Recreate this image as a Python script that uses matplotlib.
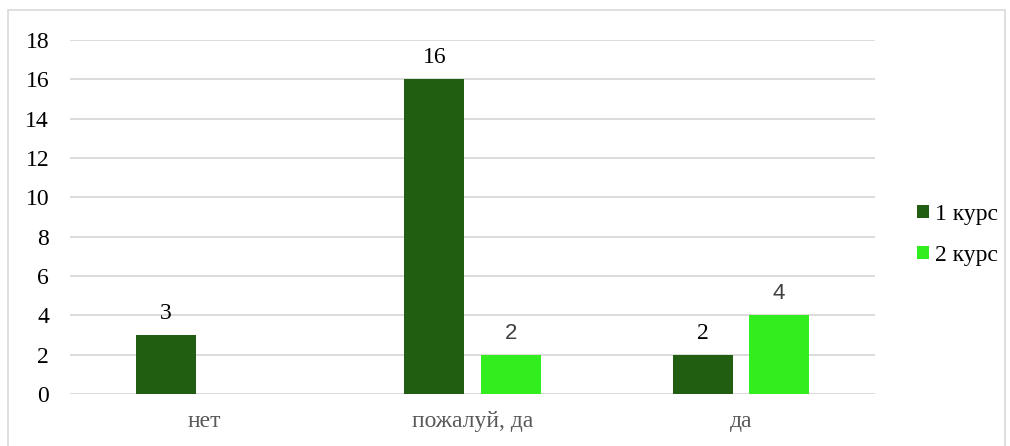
import numpy as np
import matplotlib.pyplot as plt
from matplotlib.patches import Rectangle

categories = ["нет", "пожалуй, да", "да"]
series_names = ["1 курс", "2 курс"]
kurs1 = [3, 16, 2]
kurs2 = [np.nan, 2, 4]
yticks = [0, 2, 4, 6, 8, 10, 12, 14, 16, 18]

dark = "#225E12"
bright = "#33EE1F"

plt.rcParams['font.family'] = ['Liberation Serif', 'DejaVu Serif']

fig = plt.figure(figsize=(10.1, 4.46), dpi=100)
ax = fig.add_axes([70 / 1010, 1 - 394 / 446, 805 / 1010, 354 / 446])

# outer chart border
fig.patches.append(Rectangle((8 / 1010, -0.01), 997 / 1010, 1 - 10 / 446 + 0.01,
                             transform=fig.transFigure, fill=False,
                             edgecolor="#d9d9d9", linewidth=1.2))

x = np.arange(len(categories))
w = 0.224
off = 0.142
ax.bar(x - off, kurs1, w, color=dark, label=series_names[0], zorder=3)
ax.bar(x + off, kurs2, w, color=bright, label=series_names[1], zorder=3)

for xi, v in zip(x, kurs1):
    ax.annotate(str(v), (xi - off, v), xytext=(0, 8), textcoords="offset points",
                ha="center", va="bottom", fontsize=17, color="black")
for xi, v in zip(x, kurs2):
    if not np.isnan(v):
        ax.annotate(str(int(v)), (xi + off, v), xytext=(0, 8), textcoords="offset points",
                    ha="center", va="bottom", fontsize=16, color="#404040",
                    family=["Liberation Sans", "DejaVu Sans"])

ax.set_xlim(-0.5, 2.5)
ax.set_ylim(0, 18)
ax.set_yticks(yticks)
ax.set_yticklabels([str(t) for t in yticks], fontsize=17, color="black")
ax.set_xticks(x)
ax.set_xticklabels(categories, fontsize=17, color="#595959")
ax.tick_params(axis="both", length=0)
ax.tick_params(axis="y", pad=15)
ax.tick_params(axis="x", pad=12)
ax.grid(axis="y", color="#d9d9d9", linewidth=1.3, zorder=0)
for s in ax.spines.values():
    s.set_visible(False)

fig.legend(loc="center left", bbox_to_anchor=(905 / 1010, 1 - 235 / 446),
           frameon=False, fontsize=17, handlelength=0.5, handleheight=0.5,
           handletextpad=0.25, labelspacing=0.85, borderpad=0)

fig.savefig("out.png", dpi=100)
